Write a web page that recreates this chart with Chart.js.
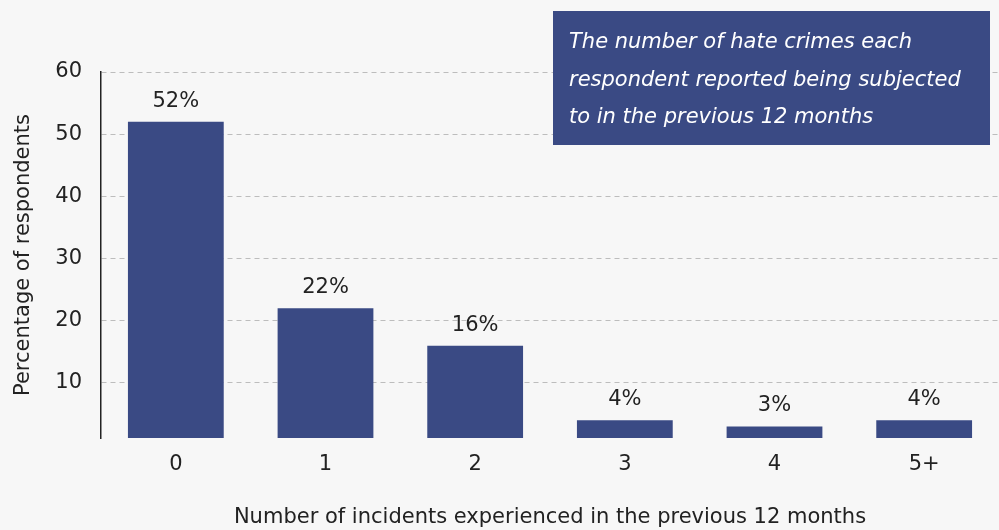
<!DOCTYPE html>
<html>
<head>
<meta charset="utf-8">
<script src="https://cdn.jsdelivr.net/npm/chart.js@4.4.1/dist/chart.umd.min.js"></script>
<style>
  html, body { margin: 0; padding: 0; background: #f7f7f7; }
  #wrap { width: 999px; height: 530px; position: relative; }
</style>
</head>
<body>
<div id="wrap"><canvas id="chart"></canvas></div>
<script>
const categories = ['0', '1', '2', '3', '4', '5+'];
const percentages = [52, 22, 16, 4, 3, 4];
const yTicks = [10, 20, 30, 40, 50, 60];
const boxLines = [
    'The number of hate crimes each',
    'respondent reported being subjected',
    'to in the previous 12 months'
];

const barColor = '#3a4a84';
const fontFamily = "'DejaVu Sans', 'Noto Sans', sans-serif";

// value labels above bars + the note box top right
const annotations = {
    id: 'annotations',
    afterDatasetsDraw(chart) {
        const ctx = chart.ctx;
        const meta = chart.getDatasetMeta(0);
        ctx.save();
        ctx.fillStyle = '#222';
        ctx.font = '21px ' + fontFamily;
        ctx.textAlign = 'center';
        ctx.textBaseline = 'alphabetic';
        meta.data.forEach((bar, i) => {
            ctx.fillText(percentages[i] + '%', bar.x, bar.y - 15);
        });

        ctx.fillStyle = barColor;
        ctx.fillRect(553, 11, 437, 134);
        ctx.fillStyle = '#ffffff';
        ctx.font = 'italic 21px ' + fontFamily;
        ctx.textAlign = 'left';
        boxLines.forEach((line, i) => {
            ctx.fillText(line, 569, 48 + i * 37.5);
        });
        ctx.restore();
    }
};

const ctx = document.getElementById('chart').getContext('2d');
new Chart(ctx, {
    type: 'bar',
    data: {
        labels: categories,
        datasets: [{
            data: percentages,
            backgroundColor: barColor,
            barPercentage: 0.8,
            categoryPercentage: 0.8
        }]
    },
    options: {
        responsive: true,
        maintainAspectRatio: false,
        animation: false,
        layout: { padding: { top: 72, left: 0, right: 0, bottom: 0 } },
        plugins: {
            legend: { display: false },
            tooltip: { enabled: false }
        },
        scales: {
            x: {
                grid: { display: false, drawTicks: false },
                border: { display: false },
                ticks: { color: '#222', font: { family: fontFamily, size: 21 }, padding: 14 },
                title: {
                    display: true,
                    text: 'Number of incidents experienced in the previous 12 months',
                    color: '#222',
                    font: { family: fontFamily, size: 21 },
                    padding: { top: 28, bottom: 0 }
                },
                afterFit(scale) { scale.height = 92; }
            },
            y: {
                min: 1.15,
                max: 60,
                afterBuildTicks(scale) {
                    scale.ticks = yTicks.map(v => ({ value: v }));
                },
                grid: { color: '#bdbdbd', lineWidth: 1, drawTicks: false },
                border: { display: true, color: '#222', width: 1.5, dash: [5, 4] },
                ticks: { color: '#222', font: { family: fontFamily, size: 21 }, padding: 19 },
                title: {
                    display: true,
                    text: 'Percentage of respondents',
                    color: '#222',
                    font: { family: fontFamily, size: 21 },
                    padding: { top: 11, bottom: 0 }
                },
                afterFit(scale) { scale.width = 101; }
            }
        }
    },
    plugins: [annotations]
});
</script>
</body>
</html>
